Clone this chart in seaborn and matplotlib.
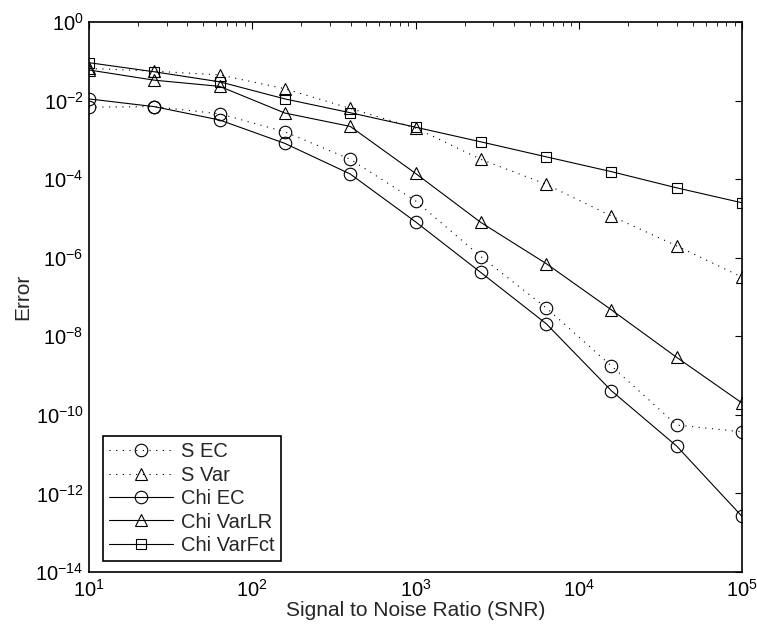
import numpy as np
import pandas as pd
import seaborn as sns
from matplotlib import pyplot as plt
from matplotlib import ticker

snr = [10, 25.1, 63.1, 158.5, 398.1, 1000, 2512, 6310, 15849, 39811, 100000]

s_ec = [6.8e-3, 7.0e-3, 4.6e-3, 1.6e-3, 3.2e-4, 2.8e-5, 1.07e-6, 5.3e-8, 1.75e-9, 5.5e-11, 3.7e-11]
s_var = [6.6e-2, 5.6e-2, 4.5e-2, 2.0e-2, 6.3e-3, 2.0e-3, 3.2e-4, 7.4e-5, 1.15e-5, 2.0e-6, 3.2e-7]
chi_ec = [1.1e-2, 7.0e-3, 3.2e-3, 8.1e-4, 1.35e-4, 8.2e-6, 4.2e-7, 2.1e-8, 4.1e-10, 1.6e-11, 2.6e-13]
chi_varlr = [6.0e-2, 3.3e-2, 2.3e-2, 4.8e-3, 2.2e-3, 1.4e-4, 7.9e-6, 7.1e-7, 4.7e-8, 2.9e-9, 2.0e-10]
chi_varfct = [9.2e-2, 5.4e-2, 3.0e-2, 1.1e-2, 4.9e-3, 2.1e-3, 8.9e-4, 3.7e-4, 1.55e-4, 6.0e-5, 2.5e-5]

series = [
    ("S EC", s_ec, "o", (0, (1, 5))),
    ("S Var", s_var, "^", (0, (1, 5))),
    ("Chi EC", chi_ec, "o", "-"),
    ("Chi VarLR", chi_varlr, "^", "-"),
    ("Chi VarFct", chi_varfct, "s", "-"),
]

sns.set_style("white")
plt.rcParams['font.family'] = ['Liberation Sans', 'DejaVu Sans']
plt.rcParams['mathtext.default'] = 'regular'
plt.rcParams['font.size'] = 14.5

fig = plt.figure(figsize=(7.57, 6.28), dpi=100)
ax = fig.add_axes([0.1176, 0.0892, 0.8626, 0.8758])

for name, vals, mk, ls in series:
    df = pd.DataFrame({"snr": snr, "err": vals})
    sns.lineplot(data=df, x="snr", y="err", ax=ax, color="k", marker=mk,
                 linestyle=ls, linewidth=0.8, markersize=9 if mk != "s" else 7.5,
                 mfc="none", mec="k", mew=0.8, label=name)

ax.set_xscale("log")
ax.set_yscale("log")
ax.set_xlim(10, 1e5)
ax.set_ylim(1e-14, 1)
ax.yaxis.set_major_locator(ticker.FixedLocator([10.0 ** k for k in range(-14, 1, 2)]))
ax.yaxis.set_minor_locator(ticker.NullLocator())
ax.xaxis.set_minor_locator(ticker.LogLocator(base=10, subs=np.arange(2, 10)))

ax.tick_params(which="both", direction="in", top=True, right=True, colors="k",
               labelsize=14.5)
ax.tick_params(which="major", length=5, width=0.8)
ax.tick_params(which="minor", length=3, width=0.6)
ax.tick_params(axis="x", pad=5)
ax.tick_params(axis="y", pad=4)
for sp in ax.spines.values():
    sp.set_color("k")
    sp.set_linewidth(1.2)

ax.set_xlabel("Signal to Noise Ratio (SNR)", fontsize=15, labelpad=0)
ax.set_ylabel("Error", fontsize=15, labelpad=2)

leg = ax.legend(loc="lower left", bbox_to_anchor=(0.021, 0.02), borderaxespad=0,
                handlelength=3.2, numpoints=1, fancybox=False, framealpha=1,
                edgecolor="k", fontsize=14.5, labelspacing=0.22, borderpad=0.3,
                handletextpad=0.4)
leg.get_frame().set_linewidth(1.2)

fig.savefig("out.png", dpi=100)
